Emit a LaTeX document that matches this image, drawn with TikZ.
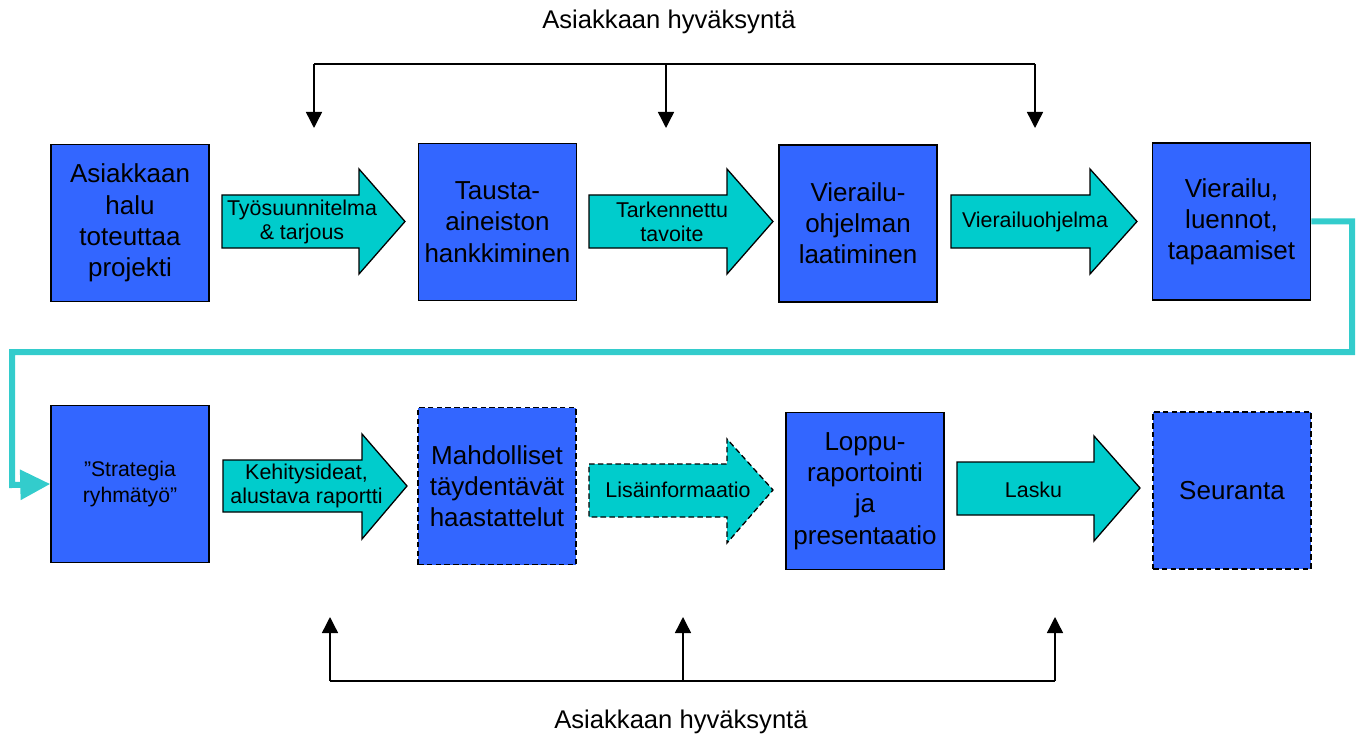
\documentclass[tikz,border=0pt]{standalone}
\usepackage{fontspec}
\setmainfont{Liberation Sans}
\usetikzlibrary{arrows.meta,positioning,calc}
\definecolor{boxblue}{HTML}{3366FF}
\definecolor{arrowcyan}{HTML}{00CCCC}
\definecolor{loopcyan}{HTML}{33CCCC}

\begin{document}
\begin{tikzpicture}[x=0.5pt, y=-0.5pt,
    every node/.style={inner sep=0pt},
    stepbox/.style={draw, fill=boxblue, line width=0.75pt, minimum width=79pt, minimum height=78.5pt, align=center, font=\fontsize{13pt}{15.6pt}\selectfont},
    flowarrow/.style={draw, fill=arrowcyan, line width=0.65pt, line join=miter},
    flowtext/.style={align=center, font=\fontsize{10.7pt}{12.2pt}\selectfont},
    oklabel/.style={font=\fontsize{12.8pt}{15pt}\selectfont},
    okline/.style={line width=0.7pt},
    loopline/.style={draw=loopcyan, line width=3pt, line join=miter, -{Triangle[width=14.5pt,length=15pt]}}]
        \useasboundingbox (0,0) rectangle (1356,738);
        % upper row
        \node[stepbox] (b1) at (130,223) {Asiakkaan\\halu\\toteuttaa\\projekti};
        \node[stepbox] (b2) at (497.5,222) {Tausta-\\aineiston\\hankkiminen};
        \node[stepbox] (b3) at (858,223.5) {Vierailu-\\ohjelman\\laatiminen};
        \node[stepbox] (b4) at (1231.5,221.5) {Vierailu,\\luennot,\\tapaamiset};
        \draw[flowarrow] (222,195) -- (359,195) -- (359,169) -- (405,221.5) -- (359,274) -- (359,248) -- (222,248) -- cycle;
        \node[flowtext] (l1) at (302,222) {Työsuunnitelma\\\& tarjous};
        \draw[flowarrow] (589,195) -- (727,195) -- (727,169) -- (773,221.5) -- (727,274) -- (727,248) -- (589,248) -- cycle;
        \node[flowtext] (l2) at (672,222) {Tarkennettu\\tavoite};
        \draw[flowarrow] (951,195) -- (1090,195) -- (1090,169) -- (1137,221.5) -- (1090,274) -- (1090,248) -- (951,248) -- cycle;
        \node[flowtext] (l3) at (1035,222) {Vierailuohjelma};
        % lower row
        \node[stepbox, font=\fontsize{10.6pt}{12.7pt}\selectfont] (b5) at (130,484) {”Strategia\\ryhmätyö”};
        \node[stepbox, dash pattern=on 2.8pt off 1.6pt] (b6) at (497,486) {Mahdolliset\\täydentävät\\haastattelut};
        \node[stepbox] (b7) at (865,491) {Loppu-\\raportointi\\ja\\presentaatio};
        \node[stepbox, dash pattern=on 2.8pt off 1.6pt] (b8) at (1232,490.5) {Seuranta};
        \draw[flowarrow] (223,460) -- (362,460) -- (362,434) -- (407,486) -- (362,539) -- (362,512) -- (223,512) -- cycle;
        \node[flowtext] (l4) at (306.5,486) {Kehitysideat,\\alustava raportti};
        \draw[flowarrow, dash pattern=on 2.8pt off 1.6pt] (589,464) -- (727,464) -- (727,439) -- (773,490) -- (727,543) -- (727,517) -- (589,517) -- cycle;
        \node[flowtext] (l5) at (678,490) {Lisäinformaatio};
        \draw[flowarrow] (957,462) -- (1094,462) -- (1094,436) -- (1140,488) -- (1094,541) -- (1094,515) -- (957,515) -- cycle;
        \node[flowtext] (l6) at (1033.5,490) {Lasku};
        % turn from upper to lower row
        \coordinate (r1) at (1352,352);
        \coordinate (r2) at (12,485);
        \draw[loopline] (b4.east) -| (r1) -| (r2) -- (b5.west);
        % approvals above
        \node[oklabel] (oktop) at (669,22) {Asiakkaan hyväksyntä};
        \coordinate (t1) at (314,64);
        \coordinate (t2) at (666,64);
        \coordinate (t3) at (1035,64);
        \coordinate (e1) at (314,128);
        \coordinate (e2) at (666,128);
        \coordinate (e3) at (1035,128);
        \draw[okline] (t1) -- (t3);
        \draw[okline, -{Triangle[width=8pt,length=8pt]}] (t1) -- (e1);
        \draw[okline, -{Triangle[width=8pt,length=8pt]}] (t2) -- (e2);
        \draw[okline, -{Triangle[width=8pt,length=8pt]}] (t3) -- (e3);
        % approvals below
        \node[oklabel] (okbot) at (681,722) {Asiakkaan hyväksyntä};
        \coordinate (u1) at (330,681);
        \coordinate (u2) at (683,681);
        \coordinate (u3) at (1055,681);
        \coordinate (f1) at (330,617);
        \coordinate (f2) at (683,617);
        \coordinate (f3) at (1055,617);
        \draw[okline] (u1) -- (u3);
        \draw[okline, -{Triangle[width=8pt,length=8pt]}] (u1) -- (f1);
        \draw[okline, -{Triangle[width=8pt,length=8pt]}] (u2) -- (f2);
        \draw[okline, -{Triangle[width=8pt,length=8pt]}] (u3) -- (f3);
    \end{tikzpicture}
\end{document}
